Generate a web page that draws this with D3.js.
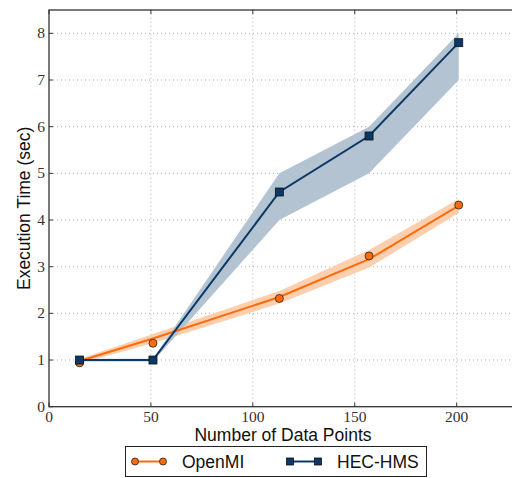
<!DOCTYPE html>
<html>
<head>
<meta charset="utf-8">
<script src="https://cdn.jsdelivr.net/npm/d3@7"></script>
<style>
body { margin: 0; background: #fff; overflow: hidden; }
</style>
</head>
<body>
<script>
// data
var dataPoints = [15, 51, 113, 157, 201];
var openmiTimes = [0.94, 1.36, 2.32, 3.23, 4.32];
var openmiFit = [0.98, 1.46, 2.35, 3.16, 4.31];
var openmiLow = [0.93, 1.36, 2.21, 2.98, 4.15];
var openmiHigh = [1.02, 1.56, 2.48, 3.36, 4.45];
var hecTimes = [1.0, 1.0, 4.6, 5.8, 7.8];
var hecLow = [0.97, 0.97, 4.0, 5.0, 7.0];
var hecHigh = [1.03, 1.03, 5.0, 6.0, 8.0];
var xTicks = [0, 50, 100, 150, 200];
var yTicks = [0, 1, 2, 3, 4, 5, 6, 7, 8];

var orange = "#ff6a0a", orangeBand = "#fdcfae";
var navy = "#0b3866", navyBand = "#b3c3d2";

var svg = d3.select("body").append("svg")
    .attr("width", 512)
    .attr("height", 478);

var x = d3.scaleLinear().domain([0, 230]).range([49, 49 + 230 * 2.0385]);
var y = d3.scaleLinear().domain([0, 8.5]).range([406.7, 10]);

//Grid lines
var grid = svg.append("g");
grid.selectAll(".gx").data(xTicks.slice(1)).enter().append("line")
    .attr("x1", d => x(d)).attr("x2", d => x(d))
    .attr("y1", y(0)).attr("y2", y(8.5))
    .attr("stroke", "#999").attr("stroke-width", 0.8)
    .attr("stroke-dasharray", "1,3");
grid.selectAll(".gy").data(yTicks.slice(1)).enter().append("line")
    .attr("y1", d => y(d)).attr("y2", d => y(d))
    .attr("x1", x(0)).attr("x2", 512)
    .attr("stroke", "#999").attr("stroke-width", 0.8)
    .attr("stroke-dasharray", "1,3");

//Bands
var openBand = d3.area()
    .x((d, i) => x(dataPoints[i]))
    .y0((d, i) => y(openmiLow[i]))
    .y1((d, i) => y(openmiHigh[i]));
var hecBandGen = d3.area()
    .x((d, i) => x(dataPoints[i]))
    .y0((d, i) => y(hecLow[i]))
    .y1((d, i) => y(hecHigh[i]));

svg.append("path").attr("d", openBand(dataPoints)).attr("fill", orangeBand);
svg.append("path").attr("d", hecBandGen(dataPoints)).attr("fill", navyBand);

//Lines
var lineGen = d3.line();
svg.append("path")
    .attr("d", lineGen(dataPoints.map((d, i) => [x(d), y(openmiFit[i])])))
    .attr("fill", "none").attr("stroke", orange).attr("stroke-width", 2);
svg.append("path")
    .attr("d", lineGen(dataPoints.map((d, i) => [x(d), y(hecTimes[i])])))
    .attr("fill", "none").attr("stroke", navy).attr("stroke-width", 2);

//Markers
svg.selectAll(".om").data(dataPoints).enter().append("circle")
    .attr("cx", d => x(d))
    .attr("cy", (d, i) => y(openmiTimes[i]))
    .attr("r", 4)
    .attr("fill", orange).attr("stroke", "#222").attr("stroke-width", 0.8);
svg.selectAll(".hm").data(dataPoints).enter().append("rect")
    .attr("x", d => x(d) - 4)
    .attr("y", (d, i) => y(hecTimes[i]) - 4)
    .attr("width", 8).attr("height", 8)
    .attr("fill", navy).attr("stroke", "#111").attr("stroke-width", 0.8);

//Frame
svg.append("rect")
    .attr("x", x(0)).attr("y", y(8.5))
    .attr("width", x(230) - x(0)).attr("height", y(0) - y(8.5))
    .attr("fill", "none").attr("stroke", "#333").attr("stroke-width", 1.3);

//Inward ticks
var ticks = svg.append("g").attr("stroke", "#333").attr("stroke-width", 1);
xTicks.forEach(function (t) {
    ticks.append("line").attr("x1", x(t)).attr("x2", x(t)).attr("y1", y(0)).attr("y2", y(0) - 4);
    ticks.append("line").attr("x1", x(t)).attr("x2", x(t)).attr("y1", y(8.5)).attr("y2", y(8.5) + 4);
});
yTicks.forEach(function (t) {
    ticks.append("line").attr("x1", x(0)).attr("x2", x(0) + 4).attr("y1", y(t)).attr("y2", y(t));
});

//Tick labels
svg.selectAll(".xl").data(xTicks).enter().append("text")
    .attr("x", d => x(d)).attr("y", 422)
    .attr("text-anchor", "middle")
    .attr("font-family", "Liberation Serif, DejaVu Serif, serif")
    .attr("font-size", 15.5).attr("fill", "#333")
    .text(d => d);
svg.selectAll(".yl").data(yTicks).enter().append("text")
    .attr("x", 45).attr("y", d => y(d) + 5)
    .attr("text-anchor", "end")
    .attr("font-family", "Liberation Serif, DejaVu Serif, serif")
    .attr("font-size", 15.5).attr("fill", "#333")
    .text(d => d);

//Axis labels
svg.append("text")
    .attr("x", 283).attr("y", 441)
    .attr("text-anchor", "middle")
    .attr("font-family", "Liberation Sans, Arial, sans-serif")
    .attr("font-size", 17.5).attr("fill", "#111")
    .text("Number of Data Points");
svg.append("text")
    .attr("transform", "translate(30," + ((y(0) + y(8.5)) / 2) + ") rotate(-90)")
    .attr("text-anchor", "middle")
    .attr("font-family", "Liberation Sans, Arial, sans-serif")
    .attr("font-size", 17.5).attr("fill", "#111")
    .text("Execution Time (sec)");

//Legend
var legend = svg.append("g");
legend.append("rect")
    .attr("x", 125.5).attr("y", 446.5).attr("width", 301).attr("height", 30)
    .attr("fill", "#fff").attr("stroke", "#222").attr("stroke-width", 1);

var items = [
    {name: "OpenMI", color: orange, shape: "circle", x0: 135, tx: 182},
    {name: "HEC-HMS", color: navy, shape: "square", x0: 290, tx: 337}
];
items.forEach(function (it) {
    var ly = 461.5;
    legend.append("line")
        .attr("x1", it.x0).attr("x2", it.x0 + 28)
        .attr("y1", ly).attr("y2", ly)
        .attr("stroke", it.color).attr("stroke-width", 2);
    [it.x0, it.x0 + 28].forEach(function (mx) {
        if (it.shape == "circle") {
            legend.append("circle").attr("cx", mx).attr("cy", ly).attr("r", 3.5)
                .attr("fill", it.color).attr("stroke", "#222").attr("stroke-width", 0.8);
        } else {
            legend.append("rect").attr("x", mx - 3.5).attr("y", ly - 3.5)
                .attr("width", 7).attr("height", 7)
                .attr("fill", it.color).attr("stroke", "#111").attr("stroke-width", 0.8);
        }
    });
    legend.append("text")
        .attr("x", it.tx).attr("y", ly + 6)
        .attr("font-family", "Liberation Sans, Arial, sans-serif")
        .attr("font-size", 17.5).attr("fill", "#111")
        .text(it.name);
});
</script>
</body>
</html>
